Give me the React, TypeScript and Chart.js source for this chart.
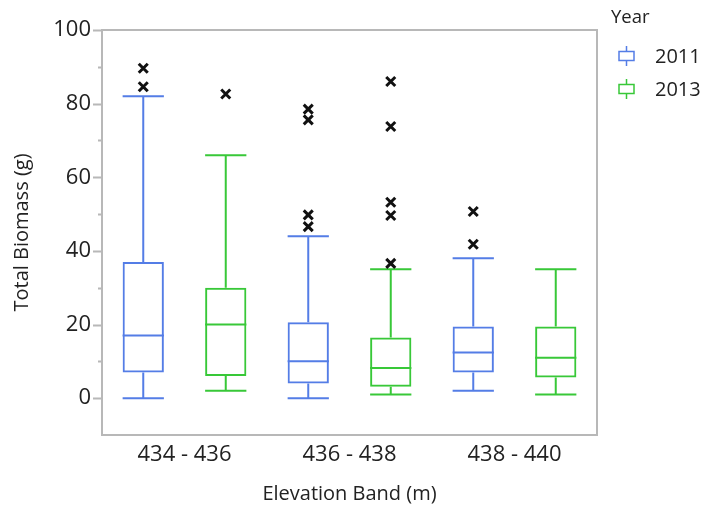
import React, { useEffect, useRef } from "react";
import { Chart, registerables } from "chart.js";

Chart.register(...registerables);

// Elevation bands on the x axis
const bands = ["434 - 436", "436 - 438", "438 - 440"];
const years = ["2011", "2013"];

// Five-number summaries per band, one array per statistic
const min2011 = [0, 0, 2];
const q1_2011 = [7, 4, 7];
const median2011 = [17, 10, 12.4];
const q3_2011 = [37, 20.6, 19.5];
const max2011 = [82, 44, 38];

const min2013 = [2, 1, 1];
const q1_2013 = [6, 3.1, 5.6];
const median2013 = [20, 8.2, 11];
const q3_2013 = [30, 16.5, 19.5];
const max2013 = [66, 35, 35];

// Outlying observations per band
const outliers2011 = [[89.6, 84.6], [78.5, 75.6, 49.8, 46.6], [50.7, 41.8]];
const outliers2013 = [[82.6], [86, 73.8, 53.2, 49.6, 36.6], []];

const yTicks = { min: -10, max: 100, step: 10 };

const BLUE = "rgb(84,125,230)";
const GREEN = "rgb(56,200,56)";
const AXIS = "#b8b8b8";
const TEXT = "#222222";
const FONT = "'Open Sans', 'DejaVu Sans', sans-serif";

const summaries = [
  { min: min2011, q1: q1_2011, med: median2011, q3: q3_2011, max: max2011, out: outliers2011, color: BLUE },
  { min: min2013, q1: q1_2013, med: median2013, q3: q3_2013, max: max2013, out: outliers2013, color: GREEN },
];

const boxPlotPlugin = {
  id: "boxPlotParts",
  afterDatasetsDraw(chart: any) {
    const ctx = chart.ctx;
    const y = chart.scales.y;
    const area = chart.chartArea;

    summaries.forEach((s, di) => {
      const meta = chart.getDatasetMeta(di);
      meta.data.forEach((bar: any, j: number) => {
        const x = bar.x;
        const half = bar.width / 2;
        const pMin = y.getPixelForValue(s.min[j]);
        const pMax = y.getPixelForValue(s.max[j]);
        const pQ1 = y.getPixelForValue(s.q1[j]);
        const pQ3 = y.getPixelForValue(s.q3[j]);
        const pMed = y.getPixelForValue(s.med[j]);
        ctx.save();
        ctx.strokeStyle = s.color;
        ctx.lineWidth = 2;
        ctx.beginPath();
        // whiskers
        ctx.moveTo(x, pQ3);
        ctx.lineTo(x, pMax);
        ctx.moveTo(x - half, pMax);
        ctx.lineTo(x + half, pMax);
        ctx.moveTo(x, pQ1);
        ctx.lineTo(x, pMin);
        ctx.moveTo(x - half, pMin);
        ctx.lineTo(x + half, pMin);
        // median
        ctx.moveTo(x - half, pMed);
        ctx.lineTo(x + half, pMed);
        ctx.stroke();

        // outliers as black crosses
        ctx.strokeStyle = "#111";
        ctx.lineWidth = 3;
        const r = 4.5;
        s.out[j].forEach((v: number) => {
          const py = y.getPixelForValue(v);
          ctx.beginPath();
          ctx.moveTo(x - r, py - r);
          ctx.lineTo(x + r, py + r);
          ctx.moveTo(x + r, py - r);
          ctx.lineTo(x - r, py + r);
          ctx.stroke();
        });
        ctx.restore();
      });
    });

    // frame and y tick marks
    ctx.save();
    ctx.strokeStyle = AXIS;
    ctx.lineWidth = 2;
    ctx.strokeRect(area.left, area.top, area.right - area.left, area.bottom - area.top);
    ctx.beginPath();
    for (let v = yTicks.min; v <= yTicks.max; v += yTicks.step) {
      if (v === yTicks.min) continue;
      const py = Math.round(y.getPixelForValue(v)) + 0.5;
      const len = v % 20 === 0 ? 9 : 4;
      ctx.moveTo(area.left - len, py);
      ctx.lineTo(area.left, py);
    }
    ctx.stroke();
    ctx.restore();

    // legend
    ctx.save();
    ctx.fillStyle = TEXT;
    ctx.textBaseline = "middle";
    ctx.textAlign = "left";
    ctx.font = `18.5px ${FONT}`;
    ctx.fillText("Year", 611, 18);
    ctx.font = `20px ${FONT}`;
    [BLUE, GREEN].forEach((c, i) => {
      const cy = 56 + i * 33;
      const cx = 626.5;
      ctx.strokeStyle = c;
      ctx.lineWidth = 1.5;
      ctx.strokeRect(cx - 7.5, cy - 4.5, 15, 9);
      ctx.beginPath();
      ctx.moveTo(cx, cy - 10);
      ctx.lineTo(cx, cy - 4.5);
      ctx.moveTo(cx, cy + 4.5);
      ctx.lineTo(cx, cy + 10);
      ctx.stroke();
      ctx.fillStyle = TEXT;
      ctx.fillText(years[i], 655, cy + 1);
    });
    ctx.restore();
  },
};

export default function App() {
  const canvasRef = useRef<HTMLCanvasElement | null>(null);

  useEffect(() => {
    document.body.style.margin = "0";
    const canvas = canvasRef.current;
    if (!canvas) return;
    const chart = new Chart(canvas, {
      type: "bar",
      data: {
        labels: bands,
        datasets: summaries.map((s, i) => ({
          label: years[i],
          data: s.q1.map((v, j) => [v, s.q3[j]]),
          backgroundColor: "rgba(255,255,255,0)",
          borderColor: s.color,
          borderWidth: 2,
          borderSkipped: false,
          categoryPercentage: 1,
          barPercentage: 0.5,
        })),
      },
      options: {
        responsive: false,
        animation: false,
        devicePixelRatio: 1,
        layout: { padding: { top: 30, right: 107, left: 0, bottom: 0 } },
        plugins: { legend: { display: false }, tooltip: { enabled: false } },
        scales: {
          x: {
            grid: { display: false, drawTicks: false },
            border: { display: false },
            ticks: { color: TEXT, font: { family: FONT, size: 22 }, padding: 7 },
            title: {
              display: true,
              text: "Elevation Band (m)",
              color: TEXT,
              font: { family: FONT, size: 20 },
              padding: { top: -1, bottom: 0 },
            },
            afterFit: (scale: any) => {
              scale.height = 71;
            },
          },
          y: {
            min: yTicks.min,
            max: yTicks.max,
            grid: { display: false, drawTicks: false },
            border: { display: false },
            ticks: {
              stepSize: yTicks.step,
              color: TEXT,
              font: { family: FONT, size: 22 },
              padding: 11,
              autoSkip: false,
              callback: (v: any) => (v >= 0 && v % 20 === 0 ? String(v) : ""),
            },
            title: {
              display: true,
              text: "Total Biomass (g)",
              color: TEXT,
              font: { family: FONT, size: 20 },
              padding: { top: 10, bottom: 0 },
            },
            afterFit: (scale: any) => {
              scale.width = 102;
            },
          },
        },
      },
      plugins: [boxPlotPlugin],
    });
    return () => chart.destroy();
  }, []);

  return (
    <div style={{ width: 704, height: 506 }}>
      <canvas ref={canvasRef} width={704} height={506} style={{ display: "block", width: 704, height: 506 }} />
    </div>
  );
}
